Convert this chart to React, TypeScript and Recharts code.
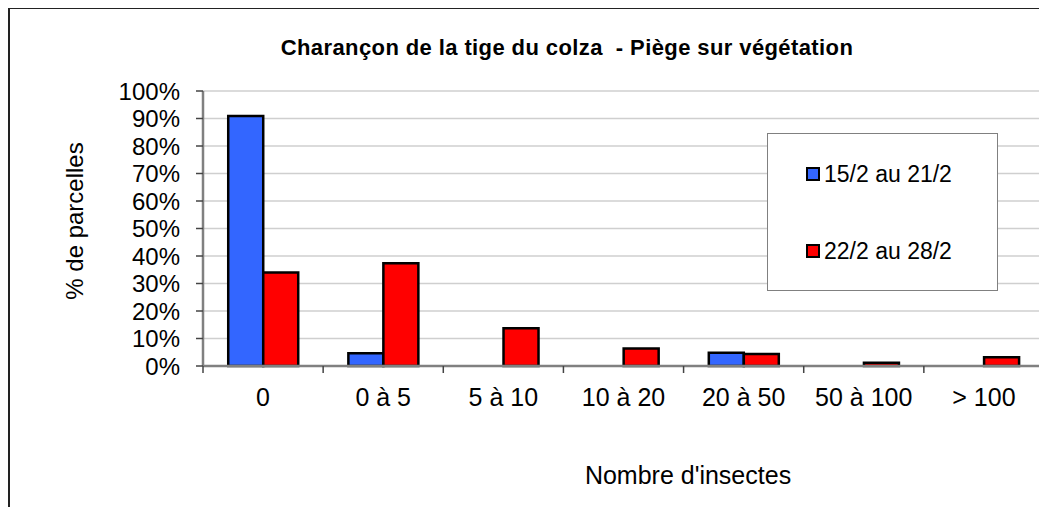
import React from "react";
import { BarChart, Bar, XAxis, YAxis, CartesianGrid, Legend } from "recharts";

const categories = ["0", "0 à 5", "5 à 10", "10 à 20", "20 à 50", "50 à 100", "> 100"];
const series1Name = "15/2 au 21/2";
const series2Name = "22/2 au 28/2";
const series1 = [90.9, 4.6, 0, 0, 4.8, 0, 0];
const series2 = [34.0, 37.4, 13.7, 6.4, 4.4, 1.2, 3.2];
const yTicks = [0, 10, 20, 30, 40, 50, 60, 70, 80, 90, 100];

const data = categories.map((c, i) => ({ cat: c, s1: series1[i], s2: series2[i] }));

const FONT = "'Liberation Sans', Arial, sans-serif";
const X_TICK_MARGIN = 22;

const LegendBox = (props: any) => {
  const payload = props.payload || [];
  return (
    <div
      style={{
        position: "absolute",
        left: 0,
        top: 0,
        width: 231,
        height: 158,
        border: "1.5px solid #808080",
        background: "#fff",
        boxSizing: "border-box",
        fontFamily: FONT,
        fontSize: 23,
      }}
    >
      {payload.map((p: any, i: number) => (
        <div
          key={i}
          style={{ position: "absolute", left: 38, top: 26 + i * 77, display: "flex", alignItems: "center", whiteSpace: "nowrap", color: "#000", lineHeight: "28px" }}
        >
          <span style={{ display: "inline-block", width: 10, height: 10, border: "2px solid #000", background: p.color, marginRight: 4 }} />
          <span>{p.value}</span>
        </div>
      ))}
    </div>
  );
};

const CatTick = (props: any) => {
  const { x, y, payload, index, visibleTicksCount } = props;
  const half = payload && payload.offset ? payload.offset : 60;
  const axisY = y - X_TICK_MARGIN;
  const isLast = index === (visibleTicksCount ?? categories.length) - 1;
  return (
    <g>
      <line x1={x - half} x2={x - half} y1={axisY} y2={axisY + 7} stroke="#444" strokeWidth={1.5} />
      {isLast && <line x1={x + half} x2={x + half} y1={axisY} y2={axisY + 7} stroke="#444" strokeWidth={1.5} />}
      <text x={x} y={y} dy="0.71em" textAnchor="middle" fill="#000" fontSize={25} fontFamily={FONT}>
        {payload.value}
      </text>
    </g>
  );
};

export default function App() {
  return (
    <div style={{ position: "relative", width: 1039, height: 500, marginTop: -1, borderLeft: "2px solid #222", borderTop: "2px solid #222", boxSizing: "border-box" }}>
      <div style={{ position: "absolute", left: -2, top: -2, width: 1039, height: 500 }}>
        <BarChart
          width={1039}
          height={500}
          data={data}
          margin={{ top: 84, right: 3, bottom: 101, left: 135 }}
          barCategoryGap="21%"
          barGap={0}
          style={{ fontFamily: FONT }}
        >
          <CartesianGrid vertical={false} stroke="#cfcfcf" strokeWidth={1.5} yAxisId="left" xAxisId="cat" />
          <XAxis xAxisId="top" orientation="top" dataKey="cat" tick={false} tickLine={false} height={0} axisLine={{ stroke: "#808080", strokeWidth: 2.5 }} />
          <XAxis
            xAxisId="cat"
            dataKey="cat"
            tickLine={false}
            tickSize={0}
            axisLine={{ stroke: "#808080", strokeWidth: 2.5 }}
            tick={<CatTick />}
            tickMargin={X_TICK_MARGIN}
            height={40}
            interval={0}
          />
          <YAxis
            yAxisId="left"
            domain={[0, 100]}
            ticks={yTicks}
            tickFormatter={(v: number) => `${v}%`}
            interval={0}
            width={60}
            tick={{ fill: "#000", fontSize: 24, fontFamily: FONT }}
            tickSize={7}
            tickMargin={16}
            tickLine={{ stroke: "#444", strokeWidth: 1.5 }}
            axisLine={{ stroke: "#808080", strokeWidth: 2.5 }}
          />
          <YAxis yAxisId="right" orientation="right" domain={[0, 100]} tick={false} tickLine={false} width={0} axisLine={{ stroke: "#808080", strokeWidth: 2.5 }} />
          <Legend
            content={<LegendBox />}
            layout="vertical"
            wrapperStyle={{ position: "absolute", left: 759, top: 126, width: 0, height: 0, overflow: "visible" }}
          />
          <Bar xAxisId="cat" yAxisId="left" dataKey="s1" name={series1Name} fill="#3366FF" stroke="#000" strokeWidth={2.5} isAnimationActive={false} />
          <Bar xAxisId="cat" yAxisId="left" dataKey="s2" name={series2Name} fill="#FF0000" stroke="#000" strokeWidth={2.5} isAnimationActive={false} />
        </BarChart>
      </div>
      <div style={{ position: "absolute", left: -18, width: 1150, top: 26, textAlign: "center", fontFamily: FONT, fontWeight: "bold", fontSize: 22, letterSpacing: 0.4, color: "#000", whiteSpace: "pre" }}>
        {"Charançon de la tige du colza  - Piège sur végétation"}
      </div>
      <div style={{ position: "absolute", left: 65 - 150, top: 212 - 16, width: 300, height: 32, lineHeight: "32px", textAlign: "center", fontFamily: FONT, fontSize: 24, color: "#000", transform: "rotate(-90deg)" }}>
        % de parcelles
      </div>
      <div style={{ position: "absolute", left: 478, width: 400, top: 452, textAlign: "center", fontFamily: FONT, fontSize: 25, color: "#000" }}>
        Nombre d'insectes
      </div>
    </div>
  );
}
